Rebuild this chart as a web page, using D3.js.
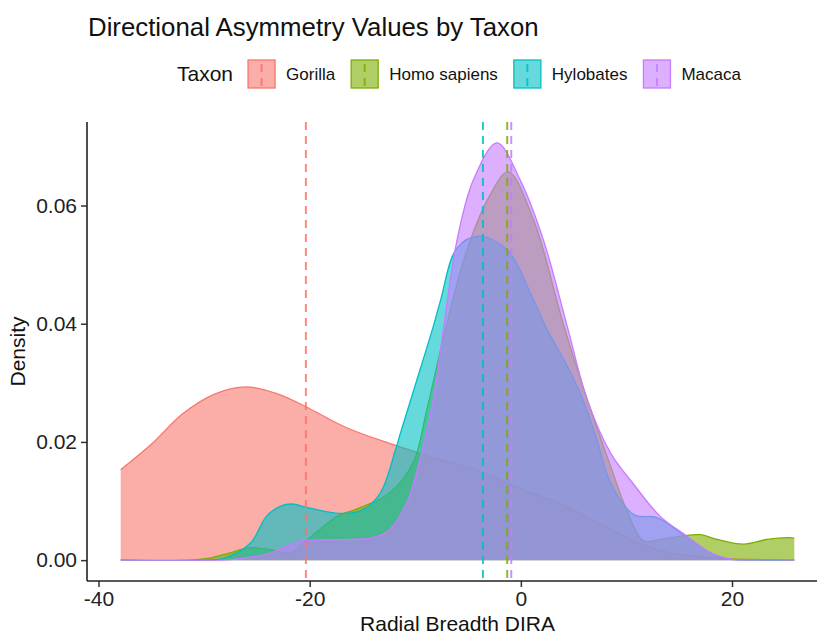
<!DOCTYPE html>
<html>
<head>
<meta charset="utf-8">
<script src="https://cdn.jsdelivr.net/npm/d3@7"></script>
<style>
  body { margin: 0; background: #fff; }
  text { font-family: "Liberation Sans", Arial, Helvetica, sans-serif; }
</style>
</head>
<body>
<div id="chart"></div>
<script>
// taxa and colours (ggplot default hue palette)
var taxa = ["Gorilla", "Homo sapiens", "Hylobates", "Macaca"]
var colors = ["#F8766D", "#7CAE00", "#00BFC4", "#C77CFF"]

// density curves (x = Radial Breadth DIRA, d = density)
var gorillaX = [-37.9, -35, -32, -29, -26, -23, -20.4, -16.5, -12, -8, -4, 0, 4, 8, 11, 14, 17, 20, 23, 25.9]
var gorillaD = [0.0153, 0.0196, 0.0248, 0.0281, 0.0293, 0.0281, 0.0260, 0.0224, 0.0195, 0.0172, 0.0151, 0.0121, 0.0094, 0.0057, 0.0030, 0.0013, 0.0006, 0.0002, 0.0001, 0.0000]

var homoX = [-37.9, -32, -30, -28, -25.6, -23.5, -21.8, -20.4, -18.5, -17.4, -14.9, -12.4, -10.2, -8.9, -7.0, -5.1, -3.0, -1.2, 1.2, 4.0, 6.3, 8.5, 10.0, 11.6, 13.2, 15.7, 17.0, 18.6, 21.1, 23.3, 25.5, 25.9]
var homoD = [0, 0, 0.0002, 0.0010, 0.0021, 0.0017, 0.0012, 0.0032, 0.0060, 0.0074, 0.0091, 0.0114, 0.0165, 0.0255, 0.0401, 0.0525, 0.0615, 0.0657, 0.0576, 0.0401, 0.0271, 0.0159, 0.0086, 0.0033, 0.0035, 0.0042, 0.0043, 0.0035, 0.0027, 0.0035, 0.0038, 0.0037]

var hyloX = [-37.9, -30, -28, -25.6, -24.1, -22.8, -21.7, -20, -16.9, -15, -13.3, -11.9, -11.4, -9.5, -8.3, -7.6, -6.05, -4.0, -1.3, 1.2, 2.5, 4.4, 5.9, 7.2, 8.5, 10.7, 12.9, 15.4, 17.9, 19.5, 22, 25.9]
var hyloD = [0, 0, 0.0004, 0.0029, 0.0074, 0.0091, 0.0095, 0.0088, 0.0079, 0.0085, 0.0114, 0.0185, 0.0215, 0.0325, 0.0395, 0.0440, 0.0528, 0.0548, 0.0525, 0.0440, 0.0390, 0.0328, 0.0271, 0.0204, 0.0131, 0.0077, 0.0072, 0.0043, 0.0013, 0.0002, 0, 0]

var macacaX = [-37.9, -28, -26.5, -24, -22.5, -20.9, -19.6, -16.2, -14.0, -12.4, -10.8, -9.8, -8.3, -7.3, -6.05, -4.5, -2.26, -0.06, 2.15, 4.4, 6.3, 8.5, 10.7, 13.2, 15.7, 17.9, 20.1, 22, 25.9]
var macacaD = [0, 0, 0.0003, 0.0010, 0.0021, 0.0032, 0.0034, 0.0035, 0.0038, 0.0052, 0.0097, 0.0153, 0.0271, 0.0395, 0.0541, 0.0643, 0.0706, 0.0643, 0.0541, 0.0395, 0.0271, 0.0181, 0.0128, 0.0074, 0.0041, 0.0013, 0.0001, 0, 0]

// group means (dashed lines)
var means = [-20.36, -1.29, -3.59, -0.91]

var xTicks = [-40, -20, 0, 20]
var yTicks = [0, 0.02, 0.04, 0.06]

var series = [
  {x: gorillaX, d: gorillaD},
  {x: homoX, d: homoD},
  {x: hyloX, d: hyloD},
  {x: macacaX, d: macacaD}
]

var width = 817, height = 634
var panel = {left: 87, right: 828, top: 122, bottom: 581}

var svg = d3.select("#chart").append("svg")
  .attr("width", width)
  .attr("height", height)

// ggplot style 5% expansion
var xmin = d3.min(series, function(s) { return d3.min(s.x) })
var xmax = d3.max(series, function(s) { return d3.max(s.x) })
var dmax = d3.max(series, function(s) { return d3.max(s.d) })
var xpad = (xmax - xmin) * 0.05

var x = d3.scaleLinear().domain([xmin - xpad, xmax + xpad]).range([panel.left, panel.right])
var y = d3.scaleLinear().domain([-dmax * 0.05, dmax * 1.05]).range([panel.bottom, panel.top])

var curve = d3.curveCatmullRom.alpha(0.5)

var area = d3.area()
  .x(function(p) { return x(p[0]) })
  .y0(y(0))
  .y1(function(p) { return y(p[1]) })
  .curve(curve)

var line = d3.line()
  .x(function(p) { return x(p[0]) })
  .y(function(p) { return y(p[1]) })
  .curve(curve)

var alpha = 0.6

// clip so smoothing never dips under the baseline
svg.append("clipPath").attr("id", "clip")
  .append("rect")
  .attr("x", panel.left).attr("y", panel.top)
  .attr("width", panel.right - panel.left)
  .attr("height", y(0) - panel.top + 0.5)

var plot = svg.append("g").attr("clip-path", "url(#clip)")

series.forEach(function(s, i) {
  var pts = s.x.map(function(v, j) { return [v, s.d[j]] })
  plot.append("path")
    .attr("d", area(pts))
    .attr("fill", colors[i])
    .attr("fill-opacity", alpha)
  plot.append("path")
    .attr("d", line(pts))
    .attr("fill", "none")
    .attr("stroke", colors[i])
    .attr("stroke-width", 1.3)
})

// mean lines
svg.selectAll("line.mean")
  .data(means)
  .enter().append("line")
  .attr("class", "mean")
  .attr("x1", function(m) { return x(m) })
  .attr("x2", function(m) { return x(m) })
  .attr("y1", panel.top)
  .attr("y2", panel.bottom)
  .attr("stroke", function(m, i) { return colors[i] })
  .attr("stroke-width", 2)
  .attr("stroke-dasharray", "8,6")
  .attr("opacity", 0.85)

// axes
var xAxis = d3.axisBottom(x).tickValues(xTicks).tickSize(6).tickPadding(4)
  .tickFormat(d3.format("d"))
var yAxis = d3.axisLeft(y).tickValues(yTicks).tickSize(6).tickPadding(4)
  .tickFormat(d3.format(".2f"))

var gx = svg.append("g")
  .attr("transform", "translate(0," + panel.bottom + ")")
  .call(xAxis)
var gy = svg.append("g")
  .attr("transform", "translate(" + panel.left + ",0)")
  .call(yAxis)

;[gx, gy].forEach(function(g) {
  g.select(".domain").remove()
  g.selectAll(".tick line").attr("stroke", "#333").attr("stroke-width", 1.5)
  g.selectAll(".tick text").attr("fill", "#222").style("font-size", "21px")
})
gx.selectAll(".tick text").text(function(d) { return d < 0 ? "-" + Math.abs(d) : d })

svg.append("line")
  .attr("x1", panel.left).attr("x2", panel.right)
  .attr("y1", panel.bottom).attr("y2", panel.bottom)
  .attr("stroke", "#222").attr("stroke-width", 1.6)
svg.append("line")
  .attr("x1", panel.left).attr("x2", panel.left)
  .attr("y1", panel.top).attr("y2", panel.bottom)
  .attr("stroke", "#222").attr("stroke-width", 1.6)

// axis titles
svg.append("text")
  .attr("x", (panel.left + panel.right) / 2)
  .attr("y", 631)
  .attr("text-anchor", "middle")
  .style("font-size", "21px")
  .attr("fill", "#111")
  .text("Radial Breadth DIRA")

svg.append("text")
  .attr("transform", "translate(25," + (panel.top + panel.bottom) / 2 + ") rotate(-90)")
  .attr("text-anchor", "middle")
  .style("font-size", "21px")
  .attr("fill", "#111")
  .text("Density")

// title
svg.append("text")
  .attr("x", 88)
  .attr("y", 36)
  .style("font-size", "25.8px")
  .attr("fill", "#111")
  .text("Directional Asymmetry Values by Taxon")

// legend
var leg = svg.append("g").attr("transform", "translate(177,74)")
var legTitle = leg.append("text")
  .attr("dy", "0.35em")
  .style("font-size", "21px")
  .attr("fill", "#111")
  .text("Taxon")
var lx = legTitle.node().getComputedTextLength() + 14

taxa.forEach(function(t, i) {
  var k = leg.append("g").attr("transform", "translate(" + lx + ",0)")
  k.append("rect")
    .attr("x", 1).attr("y", -14)
    .attr("width", 27).attr("height", 28)
    .attr("fill", colors[i]).attr("fill-opacity", alpha)
    .attr("stroke", colors[i]).attr("stroke-width", 1.3)
  k.append("line")
    .attr("x1", 14.5).attr("x2", 14.5)
    .attr("y1", -14).attr("y2", 14)
    .attr("stroke", colors[i]).attr("stroke-width", 2)
    .attr("stroke-dasharray", "8,6")
    .attr("stroke-dashoffset", -4)
    .attr("opacity", 0.85)
  var lt = k.append("text")
    .attr("x", 39)
    .attr("dy", "0.35em")
    .style("font-size", "17px")
    .attr("fill", "#111")
    .text(t)
  lx += 39 + lt.node().getComputedTextLength() + 15
})
</script>
</body>
</html>
